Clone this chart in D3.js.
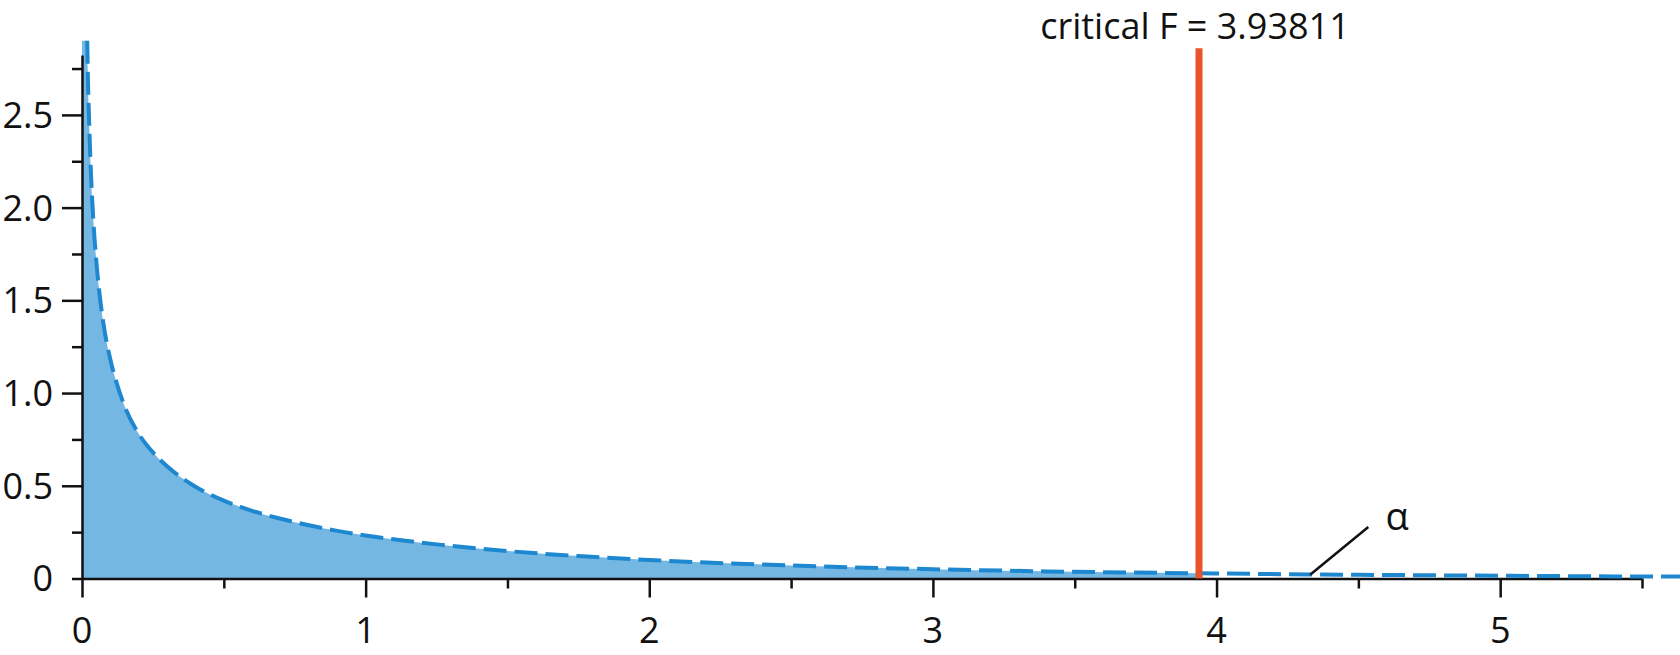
<!DOCTYPE html>
<html>
<head>
<meta charset="utf-8">
<script src="https://cdn.jsdelivr.net/npm/d3@7"></script>
<style>
  body { margin: 0; background: #fff; }
  text { font-family: "Open Sans", "Noto Sans", sans-serif; fill: #111; }
</style>
</head>
<body>
<div id="chart"></div>
<script>
// F density
const fX = [0.0185, 0.02, 0.025, 0.03, 0.04, 0.05, 0.06, 0.075, 0.1, 0.125, 0.15, 0.2, 0.25, 0.3,
            0.4, 0.5, 0.6, 0.7, 0.8, 0.9, 1.0, 1.25, 1.5, 1.75, 2.0, 2.5, 3.0, 3.5, 3.93811, 4.0,
            4.5, 5.0, 5.5, 5.64];
const fY = [2.90, 2.76, 2.47, 2.24, 1.93, 1.72, 1.56, 1.38, 1.18, 1.04, 0.93, 0.78, 0.68, 0.605,
            0.495, 0.42, 0.365, 0.322, 0.287, 0.257, 0.232, 0.184, 0.148, 0.121, 0.100, 0.070, 0.050, 0.036, 0.028, 0.027,
            0.020, 0.015, 0.011, 0.011];

const xTicks = [0, 0.5, 1, 1.5, 2, 2.5, 3, 3.5, 4, 4.5, 5, 5.5];
const xLabels = [0, 1, 2, 3, 4, 5];
const yTicks = [0, 0.25, 0.5, 0.75, 1, 1.25, 1.5, 1.75, 2, 2.25, 2.5, 2.75];
const yLabels = [0, 0.5, 1, 1.5, 2, 2.5];

const critF = 3.93811;
const critTop = 2.86;
const alphaTip = [4.33, 0.02];
const alphaEnd = [4.535, 0.278];
const alphaText = [4.637, 0.262];

const width = 1680, height = 655;

let svg = d3.select("#chart")
    .append("svg")
    .attr("width", width)
    .attr("height", height);

let x = d3.scaleLinear().domain([0, 5.5]).range([82, 1642]);
let y = d3.scaleLinear().domain([0, 2.823]).range([578.5, 55]);

let points = fX.map(function (d, i) { return { x: d, y: fY[i] }; });

// shaded part: from 0 up to the critical value
let shaded = [{ x: 0, y: fY[0] }].concat(points.filter(function (d) { return d.x <= critF; }));

svg.append("path")
    .datum(shaded)
    .attr("fill", "#75b7e3")
    .attr("d", d3.area()
        .curve(d3.curveMonotoneX)
        .x(function (d) { return x(d.x); })
        .y0(y(0))
        .y1(function (d) { return y(d.y); }));

// x axis
let xAxis = svg.append("g")
    .attr("transform", `translate(0, ${y(0)})`)
    .call(d3.axisBottom(x).tickValues(xTicks).tickSizeOuter(0).tickFormat(""));
xAxis.select(".domain").attr("stroke", "#111").attr("stroke-width", 2.5);
xAxis.selectAll(".tick line")
    .attr("stroke", "#111")
    .attr("stroke-width", 2.5)
    .attr("y2", function (d) { return Number.isInteger(d) ? 19 : 10; });
svg.append("g").selectAll("text")
    .data(xLabels)
    .enter()
    .append("text")
    .attr("x", function (d) { return x(d); })
    .attr("y", 643)
    .style("text-anchor", "middle")
    .style("font-size", "36px")
    .text(function (d) { return d; });

// y axis
let yAxis = svg.append("g")
    .attr("transform", `translate(${x(0)}, 0)`)
    .call(d3.axisLeft(y).tickValues(yTicks).tickSizeOuter(0).tickFormat(""));
yAxis.select(".domain").attr("stroke", "#111").attr("stroke-width", 2.5);
yAxis.selectAll(".tick line")
    .attr("stroke", "#111")
    .attr("stroke-width", 2.5)
    .attr("x2", function (d) { return (d > 0 && yLabels.includes(d)) ? -20 : -10; });
svg.append("g").selectAll("text")
    .data(yLabels)
    .enter()
    .append("text")
    .attr("x", x(0) - 29)
    .attr("y", function (d) { return y(d); })
    .attr("dy", "0.36em")
    .style("text-anchor", "end")
    .style("font-size", "36px")
    .text(function (d) { return d === 0 ? "0" : d3.format(".1f")(d); });

// density curve, dashed
svg.append("path")
    .datum(points)
    .attr("fill", "none")
    .attr("stroke", "#1d87d0")
    .attr("stroke-width", 4)
    .attr("stroke-dasharray", "23 8")
    .attr("d", d3.line()
        .curve(d3.curveMonotoneX)
        .x(function (d) { return x(d.x); })
        .y(function (d) { return y(d.y); }));

// critical value line
svg.append("line")
    .attr("x1", x(critF)).attr("x2", x(critF))
    .attr("y1", y(0)).attr("y2", y(critTop))
    .attr("stroke", "#e9532b")
    .attr("stroke-width", 7);

svg.append("text")
    .attr("x", x(critF) - 4)
    .attr("y", 38.5)
    .style("text-anchor", "middle")
    .style("font-size", "36px")
    .text("critical F = " + critF);

// alpha leader
svg.append("line")
    .attr("x1", x(alphaTip[0])).attr("y1", y(alphaTip[1]))
    .attr("x2", x(alphaEnd[0])).attr("y2", y(alphaEnd[1]))
    .attr("stroke", "#111")
    .attr("stroke-width", 2.5);

svg.append("text")
    .attr("x", x(alphaText[0]))
    .attr("y", y(alphaText[1]))
    .style("text-anchor", "middle")
    .style("font-size", "38px")
    .text("α");
</script>
</body>
</html>
